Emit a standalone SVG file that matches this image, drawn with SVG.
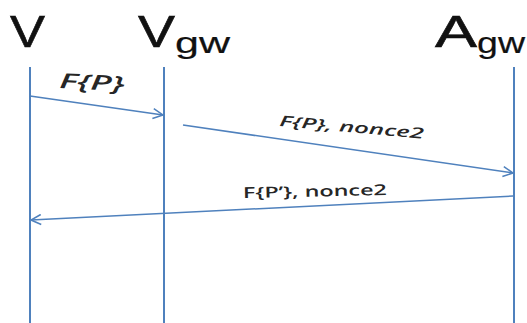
<svg xmlns="http://www.w3.org/2000/svg" width="527" height="323" viewBox="0 0 527 323">
  <defs>
    <marker id="arrow" viewBox="0 0 12 12" refX="11" refY="6" markerWidth="12" markerHeight="12" markerUnits="userSpaceOnUse" orient="auto">
      <path d="M1,1 L11,6 L1,11" fill="none" stroke="#4F81BD" stroke-width="1.5"/>
    </marker>
    <style>
      .life { stroke: #4F81BD; stroke-width: 2; }
      .msg { stroke: #4F81BD; stroke-width: 1.5; fill: none; marker-end: url(#arrow); }
      .head { font-family: "Liberation Sans", Arial, sans-serif; fill: #111; }
      .big { font-size: 45px; stroke: #111; stroke-width: 0.6; }
      .sub { font-size: 30px; stroke: #111; stroke-width: 0.2; }
      .lbl { font-family: "Open Sans", "Liberation Sans", sans-serif; fill: #262626; font-weight: 600; }
    </style>
  </defs>

  <!-- participants -->
  <g id="node-v">
    <text class="head big" x="10" y="47" textLength="35" lengthAdjust="spacingAndGlyphs">V</text>
    <line class="life" x1="30" y1="67" x2="30" y2="323"/>
  </g>
  <g id="node-vgw">
    <text class="head big" x="138" y="47" textLength="37" lengthAdjust="spacingAndGlyphs">V</text>
    <text class="head sub" x="175" y="53" textLength="55" lengthAdjust="spacingAndGlyphs">gw</text>
    <line class="life" x1="164" y1="67" x2="164" y2="323"/>
  </g>
  <g id="node-agw">
    <text class="head big" x="435" y="47" textLength="42" lengthAdjust="spacingAndGlyphs">A</text>
    <text class="head sub" x="477" y="53" textLength="48" lengthAdjust="spacingAndGlyphs">gw</text>
    <line class="life" x1="514" y1="67" x2="514" y2="323"/>
  </g>

  <!-- messages -->
  <g id="connectors">
    <line class="msg" x1="30" y1="96" x2="163" y2="115"/>
    <line class="msg" x1="183" y1="125" x2="513" y2="173"/>
    <line class="msg" x1="513" y1="196" x2="31" y2="220"/>
  </g>

  <g id="labels">
    <text class="lbl" x="59" y="88" font-size="21" font-style="italic" textLength="65" lengthAdjust="spacingAndGlyphs" transform="rotate(3 59 88)">F{P}</text>
    <text class="lbl" x="279" y="126" font-size="15" font-style="italic" textLength="145" lengthAdjust="spacingAndGlyphs" transform="rotate(5 279 126)">F{P}, nonce2</text>
    <text class="lbl" x="243" y="198" font-size="15" textLength="144" lengthAdjust="spacingAndGlyphs" transform="rotate(-1.2 243 198)">F{P’}, nonce2</text>
  </g>
</svg>
